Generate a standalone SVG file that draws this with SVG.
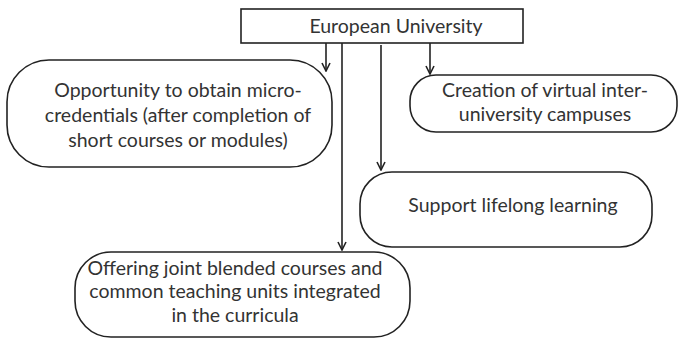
<svg xmlns="http://www.w3.org/2000/svg" width="679" height="339" viewBox="0 0 679 339">
<defs>
<marker id="ah" markerWidth="10" markerHeight="10" refX="9" refY="5" orient="auto" markerUnits="userSpaceOnUse">
<path d="M1,1 L9,5 L1,9" fill="none" stroke="#222" stroke-width="1.6"/>
</marker>
<style>
.box{fill:#fff;stroke:#222;stroke-width:1.6}
.t{font-family:Lato,"Open Sans",sans-serif;font-size:19.5px;fill:#333;text-anchor:middle}
.c{stroke:#222;stroke-width:1.6;fill:none;marker-end:url(#ah)}
</style>
</defs>
<rect width="679" height="339" fill="#fff"/>
<g id="connectors">
<line class="c" x1="326" y1="43" x2="326" y2="71"/>
<line class="c" x1="342" y1="43" x2="342" y2="250"/>
<line class="c" x1="381" y1="45" x2="381" y2="170"/>
<line class="c" x1="430" y1="43" x2="430" y2="74"/>
</g>
<g id="european-university">
<rect class="box" x="241" y="9" width="282" height="34"/>
<text class="t" x="396" y="33">European University</text>
</g>
<g id="micro-credentials">
<rect class="box" x="7" y="60" width="325" height="107" rx="42" ry="42"/>
<text class="t" x="178" y="97">Opportunity to obtain micro-</text>
<text class="t" x="178" y="122">credentials (after completion of</text>
<text class="t" x="178" y="147">short courses or modules)</text>
</g>
<g id="virtual-campuses">
<rect class="box" x="410" y="75" width="267" height="57" rx="26" ry="26"/>
<text class="t" x="545" y="97">Creation of virtual inter-</text>
<text class="t" x="545" y="121">university campuses</text>
</g>
<g id="lifelong-learning">
<rect class="box" x="360" y="172" width="292" height="75" rx="32" ry="32"/>
<text class="t" x="513" y="212">Support lifelong learning</text>
</g>
<g id="blended-courses">
<rect class="box" x="75" y="252" width="335" height="85" rx="36" ry="36"/>
<text class="t" x="235" y="275">Offering joint blended courses and</text>
<text class="t" x="235" y="298">common teaching units integrated</text>
<text class="t" x="235" y="322">in the curricula</text>
</g>
</svg>
